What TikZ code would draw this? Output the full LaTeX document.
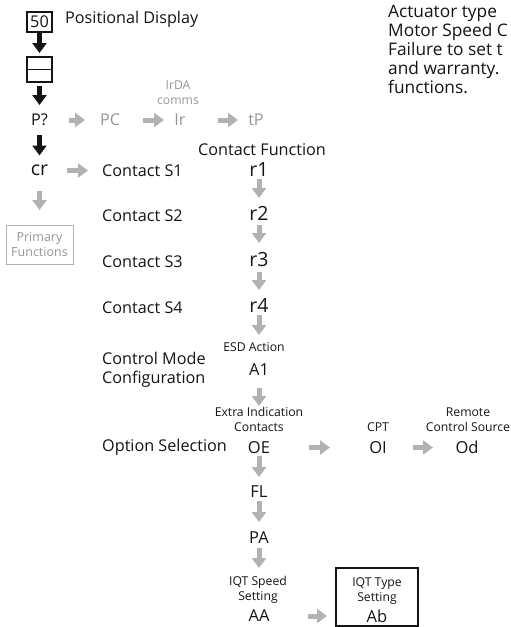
\documentclass[tikz,border=0pt]{standalone}
\usepackage{fontspec}
\setmainfont{Open Sans}
\usetikzlibrary{arrows.meta, positioning}
\definecolor{dimtext}{RGB}{150,150,150}
\definecolor{dimarrow}{RGB}{178,178,178}
\definecolor{ink}{RGB}{20,20,20}

\begin{document}
\begin{tikzpicture}[
x=1pt, y=-1pt, text=ink,
lbl/.style={inner sep=0pt, font=\fontsize{16.2}{19}\selectfont},
side/.style={lbl, anchor=west, align=left},
code/.style={inner sep=0pt, font=\fontsize{16.5}{19}\selectfont},
bigcode/.style={inner sep=0pt, font=\fontsize{19.5}{21}\selectfont},
small/.style={inner sep=0pt, align=center, font=\fontsize{12.2}{14.8}\selectfont},
dim/.style={text=dimtext},
barrow/.style={-{Triangle[width=14pt, length=10pt]}, line width=5pt, ink},
garrow/.style={-{Triangle[width=14pt, length=10pt]}, line width=5pt, dimarrow}
]
\useasboundingbox (0,0) rectangle (511,627);

% left column
\node[lbl, draw=ink, line width=1.1pt, minimum width=25pt, minimum height=20pt] (disp) at (39.5,22) {50};
\node[side] (dispname) at (65,19) {Positional Display};
\node[draw=ink, line width=1.1pt, minimum width=25pt, minimum height=25pt, inner sep=0pt] (blank) at (39.5,69.5) {};
\draw[ink, line width=1.1pt] (blank.west) -- (blank.east);
\node[lbl] (pq) at (39.5,120) {P?};
\node[bigcode] (cr) at (39.5,170.5) {cr};
\node[small, dim, draw=dimarrow, line width=0.8pt, minimum width=67pt, minimum height=39pt,
  font=\fontsize{12.5}{15}\selectfont] (prim) at (39.5,244.5) {Primary\\Functions};

% IrDA row
\node[lbl, dim] (pc) at (110,120) {PC};
\node[lbl, dim] (ir) at (180,120) {Ir};
\node[small, dim] (irda) at (178,92.5) {IrDA\\comms};
\node[lbl, dim] (tp) at (256,120) {tP};

% contacts
\node[lbl] (cfunc) at (262,150) {Contact Function};
\node[side] (s1) at (102,170.5) {Contact S1};
\node[side] (s2) at (102,216) {Contact S2};
\node[side] (s3) at (102,262) {Contact S3};
\node[side] (s4) at (102,308) {Contact S4};
\node[bigcode] (r1) at (259,170) {r1};
\node[bigcode] (r2) at (259,213) {r2};
\node[bigcode] (r3) at (259,260) {r3};
\node[bigcode] (r4) at (259,305) {r4};

% control mode
\node[side] (cmode) at (102,369.5) {Control Mode\\Configuration};
\node[small] (esd) at (254,347) {ESD Action};
\node[code] (a1) at (259,370) {A1};

% options
\node[side] (optsel) at (102,447.5) {Option Selection};
\node[small] (extra) at (259,419.5) {Extra Indication\\Contacts};
\node[code] (oe) at (259,447.5) {OE};
\node[small] (cpt) at (378,427) {CPT};
\node[code] (oi) at (378,447.5) {OI};
\node[small] (remote) at (468,419.5) {Remote\\Control Source};
\node[code] (od) at (467,447.5) {Od};
\node[code] (fl) at (259,492) {FL};
\node[code] (pa) at (259,538) {PA};
\node[small] (speed) at (258,590) {IQT Speed\\Setting};
\node[code] (aa) at (259,616) {AA};
\node[draw=ink, line width=1.1pt, minimum width=82pt, minimum height=58pt, inner sep=0pt] (abbox) at (377,597) {};
\node[small] (type) at (377,591) {IQT Type\\Setting};
\node[code] (ab) at (377,616) {Ab};

% note, cut off at the right
\node[anchor=west, align=left, inner sep=0pt, font=\fontsize{17.3}{19}\selectfont] (note) at (388,49)
  {Actuator type\\Motor Speed C\\Failure to set t\\and warranty.\\functions.};

% black arrows
\draw[barrow, shorten <=11pt, shorten >=16.5pt] (disp.center) -- (blank.center);
\draw[barrow, shorten <=16.5pt, shorten >=15pt] (blank.center) -- (pq.center);
\draw[barrow, shorten <=15pt, shorten >=15pt] (pq.center) -- (cr.center);

% grey arrows
\draw[garrow, shorten <=20pt, shorten >=34.5pt] (cr.center) -- (prim.center);
\draw[garrow, shorten <=29pt, shorten >=25pt] (pq.center) -- (pc.center);
\draw[garrow, shorten <=33pt, shorten >=16pt] (pc.center) -- (ir.center);
\draw[garrow, shorten <=38pt, shorten >=18pt] (ir.center) -- (tp.center);
\draw[garrow, shorten <=27.5pt, shorten >=14pt] (cr.center) -- (s1.west);

\draw[garrow, shorten <=9pt, shorten >=15pt] (r1.center) -- (r2.center);
\draw[garrow, shorten <=12pt, shorten >=17pt] (r2.center) -- (r3.center);
\draw[garrow, shorten <=12pt, shorten >=15pt] (r3.center) -- (r4.center);
\draw[garrow, shorten <=10pt, shorten >=35pt] (r4.center) -- (a1.center);
\draw[garrow, shorten <=18pt, shorten >=41.5pt] (a1.center) -- (oe.center);
\draw[garrow, shorten <=8.5pt, shorten >=15pt] (oe.center) -- (fl.center);
\draw[garrow, shorten <=9pt, shorten >=16pt] (fl.center) -- (pa.center);
\draw[garrow, shorten <=10pt, shorten >=48pt] (pa.center) -- (aa.center);

\draw[garrow, shorten <=50pt, shorten >=48pt] (oe.center) -- (oi.center);
\draw[garrow, shorten <=35pt, shorten >=34pt] (oi.center) -- (od.center);
\draw[garrow, shorten <=49pt, shorten >=50pt] (aa.center) -- (ab.center);

\end{tikzpicture}
\end{document}
